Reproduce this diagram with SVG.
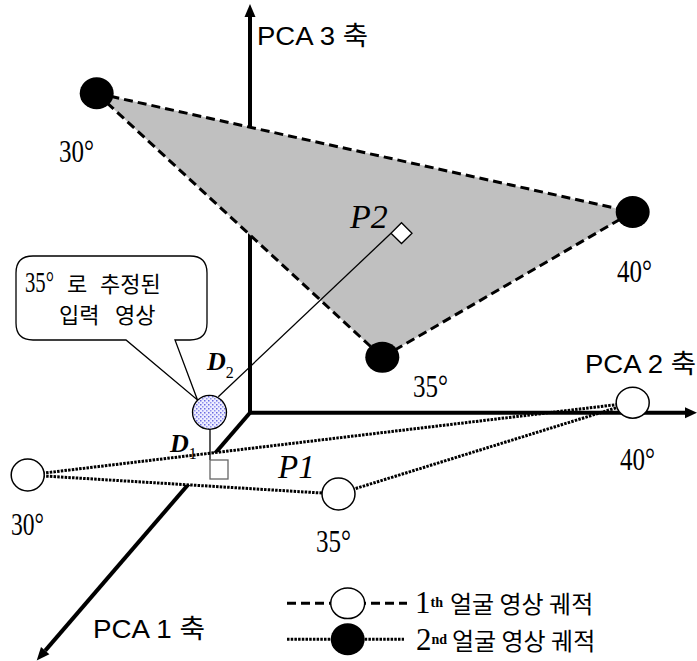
<svg xmlns="http://www.w3.org/2000/svg" width="697" height="661" viewBox="0 0 697 661">
<style>
.deg{font-family:"Liberation Serif",serif;font-size:31px;fill:#000}
.ax{font-family:"Liberation Sans","Noto Sans CJK KR",sans-serif;font-size:26px;fill:#000}
.kr{font-family:"Noto Sans CJK KR",sans-serif;fill:#000}
.it{font-family:"Liberation Serif",serif;font-style:italic;fill:#000}
.axis{stroke:#000;stroke-width:4;fill:none}
.dash{stroke:#000;stroke-width:3;stroke-dasharray:9 5;fill:none}
.dot{stroke:#000;stroke-width:3;stroke-dasharray:2.5 1.2;fill:none}
.thin{stroke:#000;stroke-width:1.3;fill:none}
.wc{fill:#fff;stroke:#000;stroke-width:1.5}
.bc{fill:#000}
</style>
<defs>
<pattern id="dots" width="4" height="4" patternUnits="userSpaceOnUse">
<rect width="4" height="4" fill="#eeeeff"/>
<rect x="0" y="0" width="1.5" height="1.5" fill="#6a6ae0"/>
<rect x="2" y="2" width="1.5" height="1.5" fill="#9090ee"/>
</pattern>
</defs>

<g id="connectors">
<line class="axis" x1="250" y1="412.7" x2="45.2" y2="650.6"/>
<polygon points="36.7,660.5 49.4,654.2 41,647" fill="#000"/>
<polygon points="27.7,475 338,494 632.7,402.7" fill="#fff" stroke="none"/>
<line class="dot" x1="27.7" y1="475" x2="632.7" y2="402.7"/>
<line class="dot" x1="27.7" y1="475" x2="338" y2="494"/>
<line class="dot" x1="338" y1="494" x2="632.7" y2="402.7"/>
<path class="axis" d="M250,16 V412.7 H686" stroke-linejoin="miter"/>
<polygon points="250,4 244.5,17 255.5,17" fill="#000"/>
<polygon points="697,412.7 685,407.2 685,418.2" fill="#000"/>
<polygon points="96.7,93.3 632.7,212 382.3,357.3" fill="#c0c0c0" stroke="none"/>
<line class="dash" x1="96.7" y1="93.3" x2="632.7" y2="212"/>
<line class="dash" x1="96.7" y1="93.3" x2="382.3" y2="357.3"/>
<line class="dash" x1="382.3" y1="357.3" x2="632.7" y2="212"/>
<line class="thin" x1="218.3" y1="396.7" x2="391" y2="233.3"/>
<line class="thin" x1="210" y1="428.5" x2="210" y2="460"/>
</g>

<g id="callout">
<path d="M33,256 H190 Q207,256 207,273 V323 Q207,340 190,340 H175 L197.5,400 L126,340 H33 Q16,340 16,323 V273 Q16,256 33,256 Z" fill="#fff" stroke="#000" stroke-width="1.3"/>
<text class="kr" font-size="22"><tspan font-family="Liberation Serif, serif" x="25" y="292" font-size="29" textLength="29" lengthAdjust="spacingAndGlyphs">35°</tspan><tspan x="67" y="292" font-size="22">로</tspan><tspan x="100" y="292" font-size="22">추정된</tspan><tspan x="59" y="323">입력</tspan><tspan x="115" y="323">영상</tspan></text>
</g>

<g id="input">
<circle cx="209.5" cy="412.3" r="17" fill="url(#dots)" stroke="#000" stroke-width="1.3"/>
</g>

<g id="P2">
<polygon points="391,233.3 401.5,243.5 412,233.3 401.5,222.7" fill="#fff" stroke="#000" stroke-width="1.3"/>
<text class="it" x="350" y="228" font-size="34">P2</text>
</g>

<g id="P1">
<rect x="210" y="460" width="18" height="19" fill="#fff" stroke="#666" stroke-width="1.3"/>
<text class="it" x="278" y="478" font-size="33">P1</text>
</g>

<g id="D2">
<text class="it" x="207" y="370" font-size="26" font-weight="bold">D<tspan font-style="normal" font-weight="normal" font-size="16" dy="8">2</tspan></text>
</g>
<g id="D1">
<text class="it" x="170" y="452" font-size="26" font-weight="bold">D<tspan font-style="normal" font-weight="normal" font-size="16" dy="7">1</tspan></text>
</g>

<g id="n2-30">
<ellipse class="bc" cx="96.7" cy="93.3" rx="17" ry="16"/>
<text class="deg" x="59" y="162" textLength="35" lengthAdjust="spacingAndGlyphs">30°</text>
</g>
<g id="n2-40">
<ellipse class="bc" cx="632.7" cy="212" rx="17" ry="16"/>
<text class="deg" x="617" y="282" textLength="35" lengthAdjust="spacingAndGlyphs">40°</text>
</g>
<g id="n2-35">
<ellipse class="bc" cx="382.3" cy="357.3" rx="17" ry="15.5"/>
<text class="deg" x="413" y="397" textLength="35" lengthAdjust="spacingAndGlyphs">35°</text>
</g>

<g id="n1-30">
<ellipse class="wc" cx="27.7" cy="475" rx="16.5" ry="16"/>
<text class="deg" x="11" y="535" textLength="33" lengthAdjust="spacingAndGlyphs">30°</text>
</g>
<g id="n1-35">
<ellipse class="wc" cx="338.5" cy="494" rx="16.5" ry="16"/>
<text class="deg" x="316" y="552" textLength="35" lengthAdjust="spacingAndGlyphs">35°</text>
</g>
<g id="n1-40">
<ellipse class="wc" cx="632.7" cy="402.7" rx="16.5" ry="15.5"/>
<text class="deg" x="620" y="470" textLength="35" lengthAdjust="spacingAndGlyphs">40°</text>
</g>

<g id="axis-labels">
<text class="ax" x="257" y="45" textLength="111" lengthAdjust="spacingAndGlyphs">PCA 3 축</text>
<text class="ax" x="585" y="373" textLength="111" lengthAdjust="spacingAndGlyphs">PCA 2 축</text>
<text class="ax" x="93" y="638" textLength="112" lengthAdjust="spacingAndGlyphs">PCA 1 축</text>
</g>

<g id="legend">
<line class="dash" x1="287" y1="603.3" x2="407" y2="603.3"/>
<ellipse class="wc" cx="347.7" cy="603.3" rx="17" ry="15.3"/>
<line class="dot" x1="287" y1="639.3" x2="404" y2="639.3"/>
<ellipse class="bc" cx="347.7" cy="639.3" rx="17" ry="16"/>
<text class="deg" x="415" y="613" font-size="24">1<tspan font-size="14" font-weight="bold" dy="-6">th</tspan><tspan class="kr" x="450" y="613" font-size="24">얼굴 영상 궤적</tspan></text>
<text class="deg" x="416" y="650" font-size="24">2<tspan font-size="14" font-weight="bold" dy="-6">nd</tspan><tspan class="kr" x="452" y="650" font-size="24">얼굴 영상 궤적</tspan></text>
</g>
</svg>
